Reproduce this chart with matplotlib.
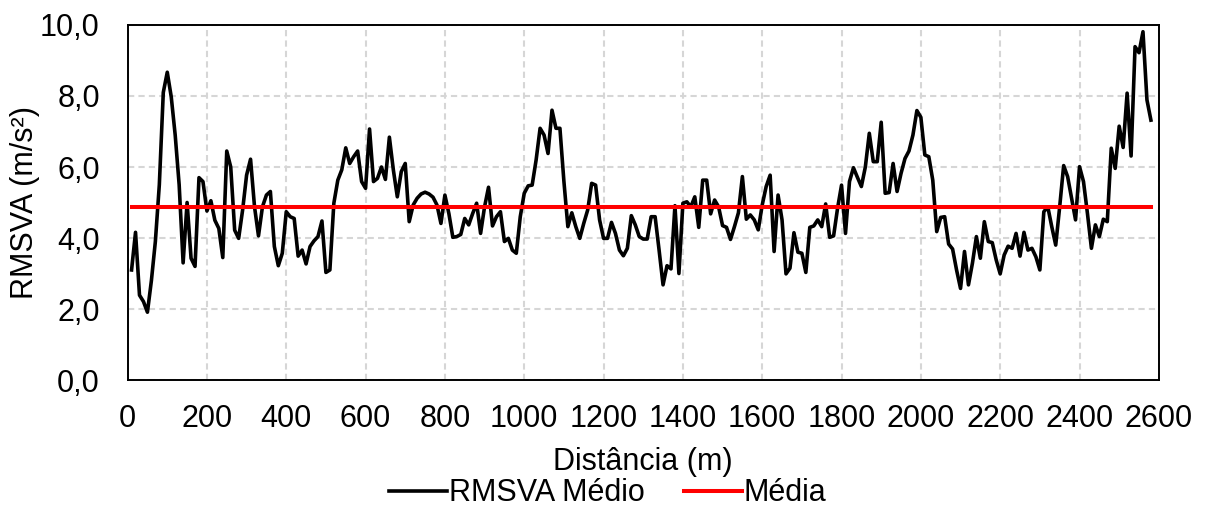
import numpy as np
import matplotlib
matplotlib.use("Agg")
import matplotlib.pyplot as plt
from matplotlib.ticker import FuncFormatter

# RMSVA medio a cada 10 m (10 m .. 2580 m)
rmsva = [
    3.10, 4.16, 2.39, 2.21, 1.91, 2.80, 3.90, 5.50, 8.10, 8.67,
    7.98, 6.90, 5.50, 3.30, 5.00, 3.43, 3.20, 5.70, 5.59, 4.76,
    5.05, 4.50, 4.27, 3.45, 6.45, 6.00, 4.22, 3.99, 4.79, 5.77,
    6.22, 4.88, 4.06, 4.88, 5.21, 5.31, 3.76, 3.22, 3.57, 4.74,
    4.60, 4.55, 3.49, 3.66, 3.27, 3.76, 3.92, 4.04, 4.48, 3.03,
    3.10, 4.98, 5.63, 5.92, 6.54, 6.10, 6.29, 6.45, 5.59, 5.40,
    7.07, 5.59, 5.68, 6.00, 5.65, 6.84, 5.92, 5.16, 5.87, 6.10,
    4.46, 4.93, 5.12, 5.24, 5.29, 5.24, 5.15, 4.93, 4.41, 5.21,
    4.69, 4.02, 4.04, 4.10, 4.55, 4.37, 4.69, 4.98, 4.13, 4.88,
    5.43, 4.34, 4.60, 4.74, 3.90, 3.99, 3.66, 3.57, 4.60, 5.26,
    5.47, 5.49, 6.20, 7.09, 6.90, 6.38, 7.60, 7.09, 7.09, 5.60,
    4.32, 4.71, 4.32, 3.99, 4.41, 4.79, 5.54, 5.49, 4.51, 3.99,
    3.99, 4.44, 4.13, 3.66, 3.50, 3.71, 4.63, 4.37, 4.04, 3.97,
    3.97, 4.60, 4.60, 3.66, 2.68, 3.22, 3.13, 4.91, 3.00, 4.98,
    5.02, 4.88, 5.16, 4.30, 5.63, 5.63, 4.68, 5.07, 4.88, 4.35,
    4.30, 3.96, 4.32, 4.71, 5.73, 4.53, 4.65, 4.51, 4.23, 4.93,
    5.45, 5.77, 3.62, 5.21, 4.51, 2.99, 3.15, 4.15, 3.60, 3.57,
    3.03, 4.30, 4.34, 4.51, 4.32, 4.96, 4.02, 4.06, 4.84, 5.49,
    4.13, 5.59, 5.98, 5.71, 5.45, 6.00, 6.95, 6.15, 6.15, 7.26,
    5.26, 5.28, 6.10, 5.31, 5.82, 6.24, 6.45, 6.90, 7.59, 7.40,
    6.34, 6.29, 5.63, 4.18, 4.58, 4.60, 3.83, 3.69, 3.10, 2.58,
    3.62, 2.68, 3.29, 4.04, 3.43, 4.46, 3.90, 3.87, 3.38, 2.99,
    3.52, 3.77, 3.71, 4.13, 3.49, 4.16, 3.66, 3.71, 3.47, 3.10,
    4.74, 4.88, 4.32, 3.80, 4.88, 6.04, 5.73, 5.12, 4.51, 6.01,
    5.59, 4.69, 3.71, 4.37, 4.04, 4.53, 4.46, 6.53, 5.96, 7.15,
    6.55, 8.08, 6.31, 9.39, 9.22, 9.81, 7.89, 7.32,
]
distancia = np.arange(10, 10 * len(rmsva) + 1, 10)
media = 4.87

x_ticks = list(range(0, 2601, 200))
y_ticks = [0, 2, 4, 6, 8, 10]

fs = 22
plt.rcParams['font.family'] = ['Liberation Sans', 'DejaVu Sans']
plt.rcParams['font.size'] = fs

fig = plt.figure(figsize=(12.06, 5.09), dpi=100)
ax = fig.add_axes([0.1058, 0.2534, 0.8551, 0.6975])

ax.plot(distancia, rmsva, color='black', lw=2.6, label='RMSVA Médio', zorder=3)
ax.plot(distancia, [media] * len(distancia), color='#ff0000', lw=2.9, label='Média', zorder=4)

ax.set_xlim(0, 2600)
ax.set_ylim(0, 10)
ax.set_xticks(x_ticks)
ax.set_yticks(y_ticks)
ax.yaxis.set_major_formatter(FuncFormatter(lambda v, p: f"{v:.1f}".replace('.', ',')))
ax.tick_params(length=0, labelsize=fs, colors='black')
ax.tick_params(axis='x', pad=17)
ax.tick_params(axis='y', pad=20)

ax.grid(True, color='#d6d6d6', lw=1.5, linestyle=(0, (3.0, 2.0)))
ax.set_axisbelow(True)
for s in ax.spines.values():
    s.set_color('black')
    s.set_linewidth(1.4)

ax.set_xlabel('Distância (m)', fontsize=fs)
ax.xaxis.set_label_coords(0.5, -0.231)
ax.xaxis.label.set_va('center')
ax.set_ylabel('RMSVA (m/s²)', fontsize=fs)
ax.yaxis.set_label_coords(-0.0995, 0.5)
ax.yaxis.label.set_va('center')

fig.legend(loc='center', bbox_to_anchor=(0.504, 0.031), ncol=2, frameon=False,
           handlelength=1.9, handletextpad=0.05, columnspacing=1.3, fontsize=fs)

fig.savefig('out.png', dpi=100)
